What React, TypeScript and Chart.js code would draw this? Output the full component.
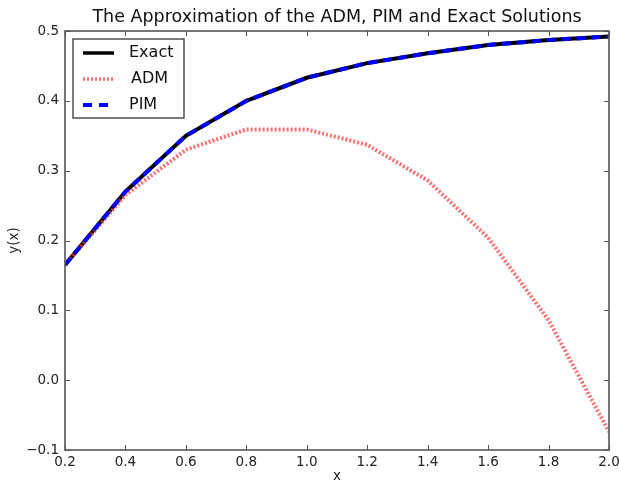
import React, { useEffect, useRef } from "react";
import { Chart, registerables } from "chart.js";

Chart.register(...registerables);

const xValues = [0.2, 0.4, 0.6, 0.8, 1.0, 1.2, 1.4, 1.6, 1.8, 2.0];
const exactValues = [0.165, 0.27, 0.35, 0.4, 0.433, 0.454, 0.468, 0.48, 0.487, 0.492];
const admValues = [0.165, 0.265, 0.33, 0.359, 0.359, 0.337, 0.286, 0.204, 0.086, -0.074];
const pimValues = [0.165, 0.27, 0.35, 0.4, 0.433, 0.454, 0.468, 0.48, 0.487, 0.492];
const seriesNames = ["Exact", "ADM", "PIM"];
const titleText = "The Approximation of the ADM, PIM and Exact Solutions";
const xTitle = "x";
const yTitle = "y(x)";

const FONT = "'DejaVu Sans', sans-serif";

const fmt = (v: number) => {
  const n = Number(v);
  const s = Math.abs(n).toFixed(1);
  return n < -1e-9 ? "\u2212" + s : s;
};

const frameTicksPlugin = {
  id: "frameTicks",
  afterDatasetsDraw(chart: any) {
    const { ctx, chartArea } = chart;
    const { left, right, top, bottom } = chartArea;
    const xs = chart.scales.x;
    const ys = chart.scales.y;
    const L = 5;
    ctx.save();
    // title
    ctx.font = "17.5px " + FONT;
    ctx.fillStyle = "#111";
    ctx.textAlign = "center";
    ctx.textBaseline = "middle";
    ctx.fillText(titleText, (left + right) / 2, top - 14);

    ctx.strokeStyle = "#555";
    ctx.lineWidth = 1;
    ctx.beginPath();
    xs.ticks.forEach((t: any) => {
      const px = Math.round(xs.getPixelForValue(t.value)) + 0.5;
      ctx.moveTo(px, bottom);
      ctx.lineTo(px, bottom - L);
      ctx.moveTo(px, top);
      ctx.lineTo(px, top + L);
    });
    ys.ticks.forEach((t: any) => {
      const py = Math.round(ys.getPixelForValue(t.value)) + 0.5;
      ctx.moveTo(left, py);
      ctx.lineTo(left + L, py);
      ctx.moveTo(right, py);
      ctx.lineTo(right - L, py);
    });
    ctx.stroke();
    ctx.lineWidth = 1.6;
    ctx.strokeStyle = "#555";
    ctx.strokeRect(left, top, right - left, bottom - top);

    // legend
    const bx = left + 8;
    const by = top + 8;
    const bw = 111;
    const bh = 79;
    ctx.fillStyle = "#fff";
    ctx.fillRect(bx, by, bw, bh);
    ctx.lineWidth = 1.4;
    ctx.strokeStyle = "#444";
    ctx.strokeRect(bx, by, bw, bh);
    const styles = [
      { color: "#000", width: 3.5, dash: [] as number[] },
      { color: "rgba(255,60,60,0.75)", width: 3.5, dash: [2, 2] },
      { color: "#0000ff", width: 4, dash: [9, 7] },
    ];
    ctx.font = "16px " + FONT;
    ctx.textBaseline = "middle";
    ctx.textAlign = "left";
    seriesNames.forEach((name, i) => {
      const y = by + 14 + i * 26;
      const s = styles[i];
      ctx.beginPath();
      ctx.setLineDash(s.dash);
      ctx.strokeStyle = s.color;
      ctx.lineWidth = s.width;
      ctx.moveTo(bx + 10, y);
      ctx.lineTo(bx + 41, y);
      ctx.stroke();
      ctx.setLineDash([]);
      ctx.fillStyle = "#111";
      ctx.fillText(name, bx + (i === 1 ? 58 : 56), y);
    });
    ctx.restore();
  },
};

export default function App() {
  const ref = useRef<HTMLCanvasElement>(null);
  useEffect(() => {
    if (!ref.current) return;
    const mk = (vals: number[]) => xValues.map((x, i) => ({ x, y: vals[i] }));
    const chart = new Chart(ref.current, {
      type: "line",
      data: {
        datasets: [
          {
            label: seriesNames[0],
            data: mk(exactValues),
            borderColor: "#000",
            borderWidth: 4,
            pointRadius: 0,
            tension: 0,
            order: 3,
          },
          {
            label: seriesNames[1],
            data: mk(admValues),
            borderColor: "rgba(255,60,60,0.75)",
            borderWidth: 4,
            borderDash: [2, 2],
            pointRadius: 0,
            tension: 0,
            order: 2,
          },
          {
            label: seriesNames[2],
            data: mk(pimValues),
            borderColor: "#0000ff",
            borderWidth: 4,
            borderDash: [9, 6],
            pointRadius: 0,
            tension: 0,
            order: 1,
          },
        ],
      },
      options: {
        responsive: false,
        animation: false,
        layout: { padding: { left: 0, right: 10, top: 31, bottom: 0 } },
        plugins: {
          legend: { display: false },
          tooltip: { enabled: false },
          title: { display: false },
        },
        scales: {
          x: {
            type: "linear",
            min: 0.2,
            max: 2.0,
            grid: { display: false, drawTicks: false },
            border: { display: false },
            ticks: {
              stepSize: 0.2,
              padding: 4,
              color: "#222",
              font: { family: FONT, size: 13.5 },
              maxRotation: 0,
              callback: (v: any) => fmt(v),
            },
            title: {
              display: true,
              text: xTitle,
              color: "#222",
              font: { family: FONT, size: 13.5 },
              padding: { top: 0, bottom: -3 },
            },
            afterFit: (s: any) => {
              s.height = 32;
              s.paddingLeft = 0;
              s.paddingRight = 0;
            },
          },
          y: {
            type: "linear",
            min: -0.1,
            max: 0.5,
            grid: { display: false, drawTicks: false },
            border: { display: false },
            ticks: {
              stepSize: 0.1,
              padding: 6,
              color: "#222",
              font: { family: FONT, size: 13.5 },
              callback: (v: any) => fmt(v),
            },
            title: {
              display: true,
              text: yTitle,
              color: "#222",
              font: { family: FONT, size: 13.5 },
              padding: { top: 6, bottom: 0 },
            },
            afterFit: (s: any) => {
              s.width = 65;
              s.paddingTop = 0;
              s.paddingBottom = 0;
            },
          },
        },
      },
      plugins: [frameTicksPlugin],
    } as any);
    return () => chart.destroy();
  }, []);
  return (
    <div style={{ position: "absolute", left: 0, top: 0, width: 619, height: 482, background: "#fff" }}>
      <canvas ref={ref} width={619} height={482} />
    </div>
  );
}
